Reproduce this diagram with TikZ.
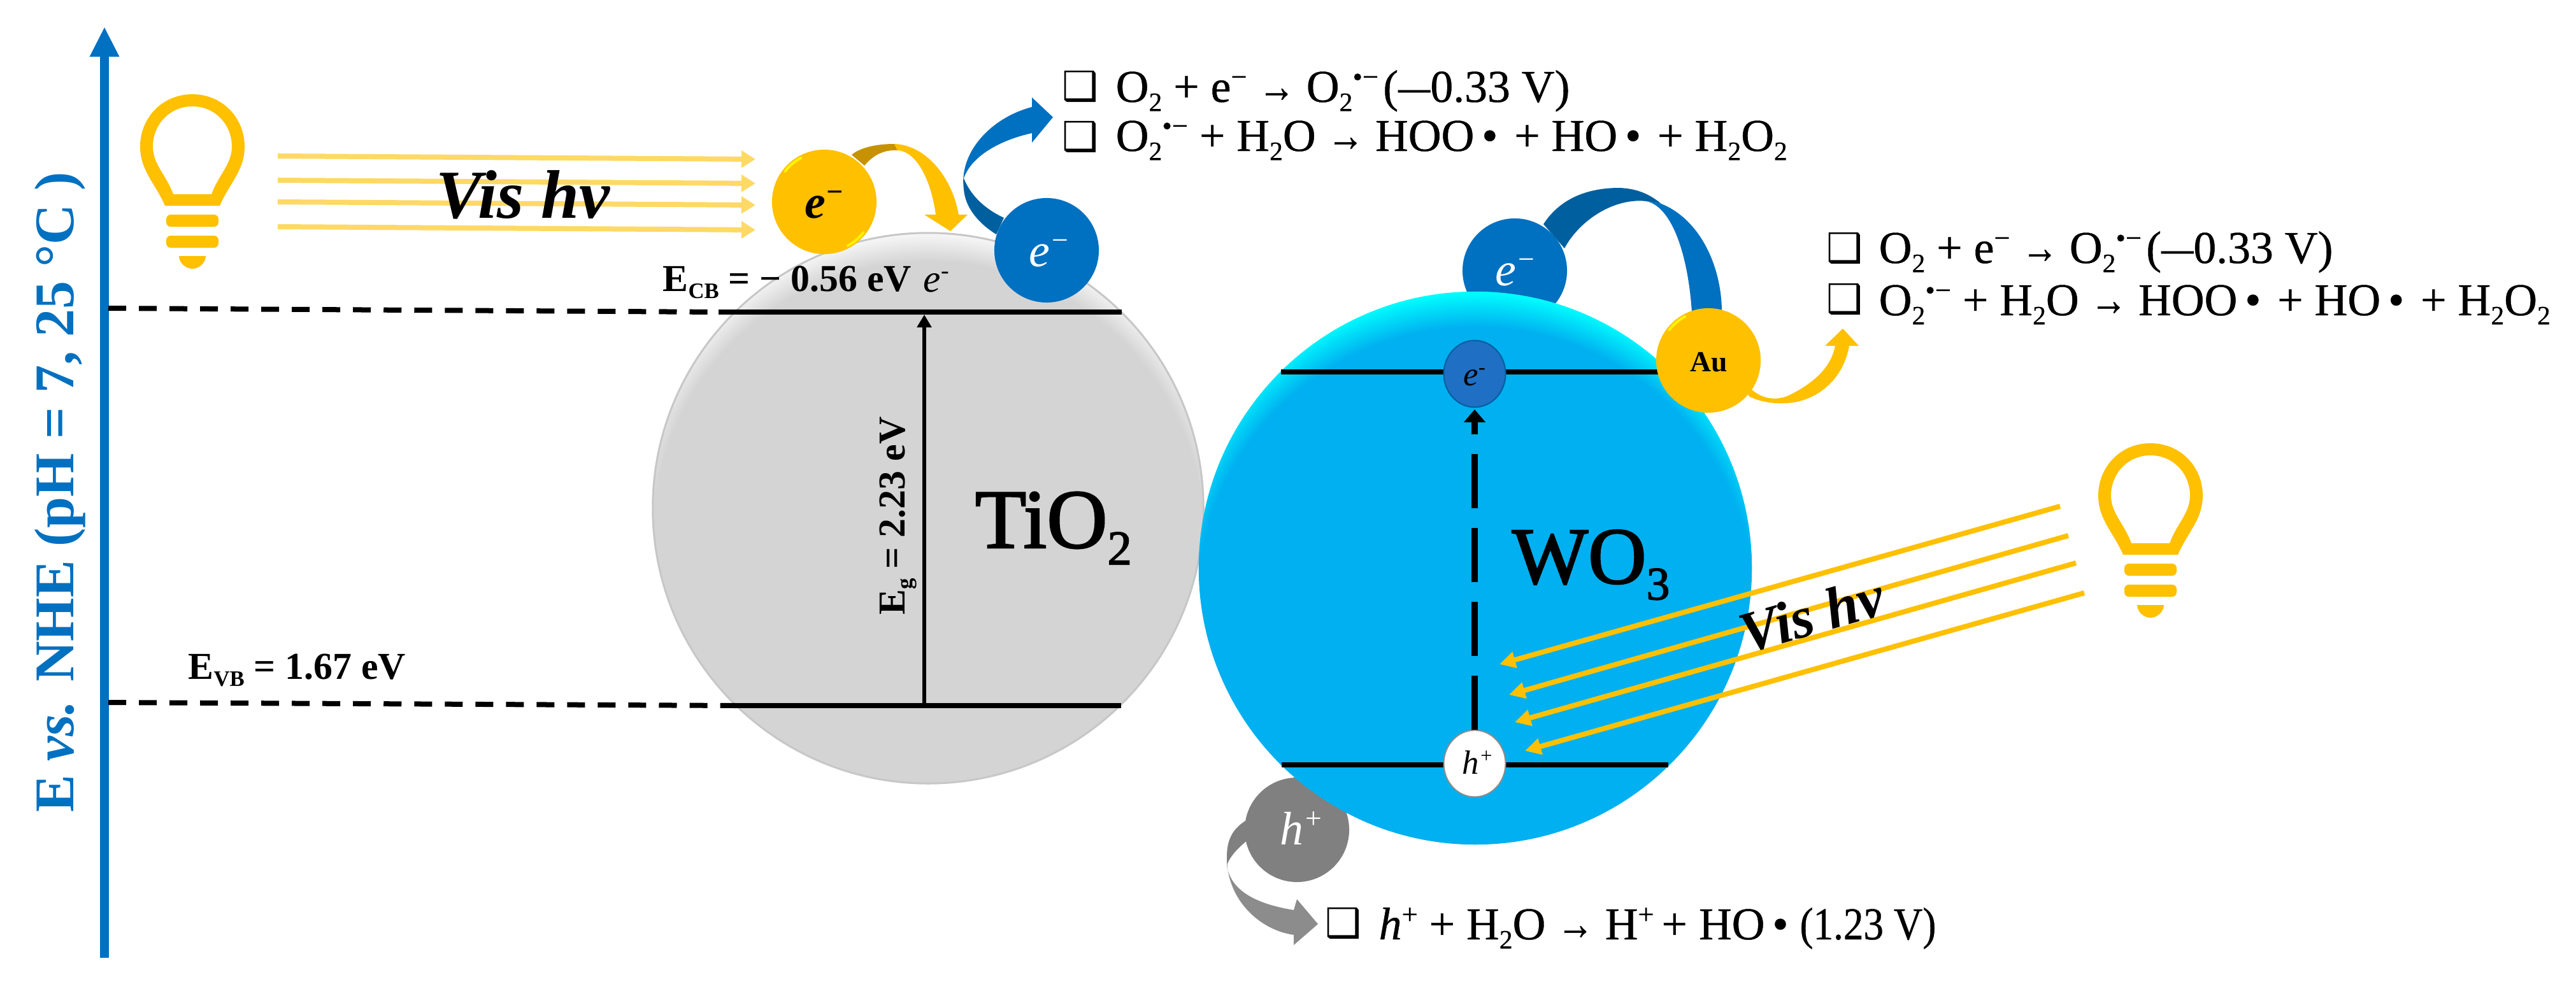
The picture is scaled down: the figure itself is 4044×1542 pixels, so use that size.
\documentclass[tikz,border=0pt]{standalone}
\usepackage{fontspec}
\usepackage{tikz}
\usetikzlibrary{arrows.meta}
\setmainfont{Liberation Serif}
\newfontfamily\dingfont{DejaVu Sans}
\newfontfamily\semifont[FakeBold=0.6]{Liberation Serif}
\newfontfamily\heavyfont[FakeBold=2]{Liberation Serif}
\definecolor{axisblue}{HTML}{0070C0}
\definecolor{deepblue}{HTML}{005F9E}
\definecolor{wothree}{HTML}{00B0F0}
\definecolor{bandblue}{HTML}{1F6FC4}
\definecolor{lampyellow}{HTML}{FFC000}
\definecolor{palelamp}{HTML}{FFD966}
\definecolor{deepyellow}{HTML}{C69200}
\pgfdeclareradialshading{tiball}{\pgfpoint{0bp}{0bp}}{color(0bp)=(black!17); color(22.5bp)=(black!17); color(24.85bp)=(black!3); color(50bp)=(black!3)}
\pgfdeclareradialshading{woball}{\pgfpoint{0bp}{0bp}}{color(0bp)=(wothree); color(21.9bp)=(wothree); color(24.7bp)=(cyan); color(50bp)=(cyan)}
\newcommand{\lowtx}[1]{\raisebox{-0.2em}{\scalebox{0.58}{#1}}}
\newcommand{\hitx}[1]{\raisebox{0.34em}{\scalebox{0.62}{#1}}}
\newcommand{\rarr}{\scalebox{0.8}[1]{→}}
\newcommand{\shortdash}{\scalebox{0.7}[1]{—}}
\newcommand{\tightv}[1]{\scalebox{0.88}[1]{#1}}
\newcommand{\dotgap}{\hspace{0.36em}}
\tikzset{lampicon/.pic = {
  \fill [lampyellow, even odd rule] (0,0) .. controls (48,0) and (82,38) .. (82,82) .. controls (82,120) and (58,140) .. (43,175) -- (-43,175) .. controls (-58,140) and (-82,120) .. (-82,82) .. controls (-82,38) and (-48,0) .. (0,0) -- cycle
    (0,19) .. controls (36,19) and (62,48) .. (62,82) .. controls (62,110) and (42,125) .. (30,157) -- (-30,157) .. controls (-42,125) and (-62,110) .. (-62,82) .. controls (-62,48) and (-36,19) .. (0,19) -- cycle;
  \fill [lampyellow, rounded corners = 0.07cm] (-41,189) rectangle (41,208);
  \fill [lampyellow, rounded corners = 0.07cm] (-41,222) rectangle (41,241);
  \fill [lampyellow] (-21,254) -- (21,254) .. controls (21,265) and (10,274) .. (0,274) .. controls (-10,274) and (-21,265) .. (-21,254) -- cycle;
}}
\begin{document}
\begin{tikzpicture}[x = 0.01cm, y = -0.01cm,
    ball/.style = {circle, inner sep = 0pt, minimum size = 1.64cm},
    yellowball/.style = {ball, fill = lampyellow},
    blueball/.style = {ball, fill = axisblue, text = white},
    greyball/.style = {ball, fill = black!50, text = white},
    level/.style = {line width = 0.08cm},
    guide/.style = {line width = 0.08cm, dash pattern = on 0.28cm off 0.2cm},
    leftray/.style = {palelamp, line width = 0.08cm, -{Triangle[length = 0.22cm, width = 0.26cm]}},
    rightray/.style = {lampyellow, line width = 0.08cm, -{Triangle[length = 0.25cm, width = 0.25cm]}},
    lab/.style = {inner sep = 0pt, anchor = base west},
    rxn/.style = {lab, font = \semifont\fontsize{20.4}{20.4}\selectfont},
    chk/.style = {inner sep = 0pt, font = \dingfont\fontsize{18}{18}\selectfont},
    bandlab/.style = {lab, font = \bfseries\fontsize{17}{17}\selectfont}]
  \useasboundingbox (0,0) rectangle (4044,1542);

  \coordinate (axisfoot) at (164,1504);
  \coordinate (axistip) at (164,42);
  \draw [axisblue, line width = 0.13cm, -{Triangle[length = 0.47cm, width = 0.43cm]}] (axisfoot) -- (axistip);
  \node [axisblue, inner sep = 0pt, anchor = base, rotate = 90, font = \bfseries\fontsize{25}{25}\selectfont] (axislabel) at (115,773) {E \textit{vs.} NHE (pH = 7, 25 °C )};

  \pic (lampa) at (302,148) {lampicon};
  \pic (lampb) at (3376,696) {lampicon};

  \fill [deepblue] (2423,352) .. controls (2450,310) and (2495,295) .. (2542,295) .. controls (2570,296) and (2590,305) .. (2608,320) -- (2585,316) .. controls (2535,310) and (2480,345) .. (2456,390) -- cycle;
  \fill [axisblue] (2585,316) .. controls (2625,325) and (2650,400) .. (2656,490) -- (2703,490) .. controls (2703,420) and (2670,345) .. (2608,320) -- cycle;
  \node [blueball] (ewo) at (2378,425){};
  \node [greyball] (hgrey) at (2036,1303){};

  \begin{scope}
    \clip (1457,798) circle [radius = 4.32cm];
    \shade [shading = tiball] (1457,843) circle [radius = 4.8cm];
  \end{scope}
  \node [circle, inner sep = 0pt, minimum size = 8.64cm, draw = black!22, line width = 0.03cm] (tio) at (1457,798){};
  \begin{scope}
    \clip (2316,892) circle [radius = 4.34cm];
    \shade [shading = woball] (2316,952) circle [radius = 5cm];
  \end{scope}
  \node [circle, inner sep = 0pt, minimum size = 8.68cm] (wo) at (2316,892){};

  \node [white, lab, font = \itshape\fontsize{21}{21}\selectfont] (ewotxt) at (2347,448) {e\hitx{−}};
  \node [white, lab, font = \itshape\fontsize{21}{21}\selectfont] (hgreytxt) at (2009,1326) {h\hitx{+}};

  \coordinate (cbstart) at (170,484);
  \coordinate (cbjoin) at (1128,490);
  \coordinate (cbend) at (1761,490);
  \coordinate (vbstart) at (170,1103);
  \coordinate (vbjoin) at (1156,1108);
  \coordinate (vbend) at (1760,1108);
  \draw [guide] (cbstart) -- (cbjoin);
  \draw [guide] (vbstart) -- (vbjoin);
  \draw [level] (cbjoin) -- (cbend);
  \draw [level] (vbjoin) -- (vbend);
  \coordinate (gapfoot) at (1451,1108);
  \coordinate (gaptop) at (1451,494);
  \draw [line width = 0.06cm, -{Triangle[length = 0.2cm, width = 0.22cm]}] (gapfoot) -- (gaptop);

  \coordinate (wocbl) at (2011,584);
  \coordinate (wocbr) at (2610,584);
  \coordinate (wovbl) at (2012,1201);
  \coordinate (wovbr) at (2619,1201);
  \draw [level] (wocbl) -- (wocbr);
  \draw [level] (wovbl) -- (wovbr);

  \node [circle, inner sep = 0pt, minimum size = 0.97cm, yscale = 1.08, fill = bandblue, draw = deepblue, line width = 0.02cm] (esmall) at (2315,587){};
  \node [lab, font = \itshape\fontsize{15}{15}\selectfont] (esmalltxt) at (2297,605) {e\hitx{-}};
  \node [circle, inner sep = 0pt, minimum size = 0.97cm, yscale = 1.08, fill = white, draw = black!45, line width = 0.02cm] (hole) at (2315,1199){};
  \node [lab, font = \itshape\fontsize{15}{15}\selectfont] (holetxt) at (2295,1215) {h\hitx{+}};
  \coordinate (holetop) at (2315,1146);
  \coordinate (etip) at (2315,643);
  \draw [line width = 0.1cm, dash pattern = on 0.85cm off 0.31cm, -{Triangle[length = 0.2cm, width = 0.33cm]}] (holetop) -- (etip);

  \fill [deepyellow] (1337,243) .. controls (1350,232) and (1375,226) .. (1404,226) -- (1409,236) .. controls (1385,235) and (1370,245) .. (1357,260) -- cycle;
  \fill [lampyellow] (1404,226) .. controls (1455,228) and (1495,280) .. (1505,337) -- (1519,337) -- (1492,363) -- (1451,337) -- (1469,337) .. controls (1462,285) and (1440,238) .. (1409,236) -- cycle;
  \fill [deepblue] (1513,280) .. controls (1525,310) and (1550,330) .. (1576,342) -- (1564,368) .. controls (1535,350) and (1515,325) .. (1513,297) -- cycle;
  \fill [axisblue] (1513,297) .. controls (1505,240) and (1555,185) .. (1620,168) -- (1620,153) -- (1653,184) -- (1620,224) -- (1620,209) .. controls (1570,220) and (1525,245) .. (1513,280) -- cycle;
  \fill [lampyellow] (2745,607) .. controls (2765,628) and (2790,630) .. (2810,620) .. controls (2850,600) and (2875,575) .. (2881,543) -- (2865,543) -- (2893,516) -- (2918,543) -- (2903,543) .. controls (2895,590) and (2860,625) .. (2815,632) .. controls (2785,636) and (2760,630) .. (2745,622) -- cycle;
  \fill [black!50] (1955,1289) .. controls (1938,1300) and (1926,1315) .. (1926,1345) -- (1926,1359) .. controls (1930,1345) and (1945,1330) .. (1960,1318) -- cycle;
  \fill [black!45] (1926,1345) .. controls (1925,1410) and (1975,1460) .. (2031,1468) -- (2031,1484) -- (2069,1451) -- (2036,1412) -- (2031,1429) .. controls (1975,1420) and (1932,1400) .. (1926,1359) -- cycle;

  \node [yellowball] (eyel) at (1294,317){};
  \node [blueball] (eblue) at (1643,393){};
  \node [yellowball] (au) at (2682,566){};
  \draw [yellow, line width = 0.04cm, line cap = round] ([shift = {(38:78)}]eyel.center) arc [start angle = -38, end angle = -62, radius = 0.78cm];
  \draw [yellow, line width = 0.04cm, line cap = round] ([shift = {(-142:78)}]eyel.center) arc [start angle = 142, end angle = 118, radius = 0.78cm];
  \draw [yellow, line width = 0.04cm, line cap = round] ([shift = {(-142:78)}]au.center) arc [start angle = 142, end angle = 118, radius = 0.78cm];

  \node [lab, font = \bfseries\itshape\fontsize{21}{21}\selectfont] (eyeltxt) at (1263,342) {e\hitx{−}};
  \node [lab, white, font = \itshape\fontsize{21}{21}\selectfont] (ebluetxt) at (1615,418) {e\hitx{−}};
  \node [lab, font = \bfseries\fontsize{13}{13}\selectfont] (autxt) at (2653,583) {Au};

  \coordinate (la1) at (436,245);
  \coordinate (lb1) at (1186,250);
  \coordinate (la2) at (436,283);
  \coordinate (lb2) at (1186,288);
  \coordinate (la3) at (436,317);
  \coordinate (lb3) at (1186,322);
  \coordinate (la4) at (436,356);
  \coordinate (lb4) at (1186,361);
  \draw [leftray] (la1) -- (lb1);
  \draw [leftray] (la2) -- (lb2);
  \draw [leftray] (la3) -- (lb3);
  \draw [leftray] (la4) -- (lb4);
  \node [lab, font = \bfseries\itshape\fontsize{30.7}{30.7}\selectfont] (vistop) at (684,342) {Vis hv};

  \coordinate (ra1) at (3234,795);
  \coordinate (rb1) at (2354,1043);
  \coordinate (ra2) at (3247,841);
  \coordinate (rb2) at (2369,1091);
  \coordinate (ra3) at (3259,884);
  \coordinate (rb3) at (2378,1134);
  \coordinate (ra4) at (3272,931);
  \coordinate (rb4) at (2394,1179);
  \draw [rightray] (ra1) -- (rb1);
  \draw [rightray] (ra2) -- (rb2);
  \draw [rightray] (ra3) -- (rb3);
  \draw [rightray] (ra4) -- (rb4);
  \node [inner sep = 0pt, rotate = 16, font = \bfseries\itshape\fontsize{26}{26}\selectfont] (visbot) at (2844,965) {Vis hv};

  \node [bandlab] (ecb) at (1040,457) {E\lowtx{CB} = − 0.56 eV};
  \node [lab, font = \itshape\fontsize{17.5}{17.5}\selectfont] (ecbe) at (1449,458) {e\hitx{-}};
  \node [bandlab] (evb) at (295,1066) {E\lowtx{VB} = 1.67 eV};
  \node [inner sep = 0pt, anchor = base, rotate = 90, font = \bfseries\fontsize{17}{17}\selectfont] (eg) at (1420,810) {E\lowtx{g} = 2.23 eV};
  \node [lab, font = \heavyfont\fontsize{37.5}{37.5}\selectfont] (tiotxt) at (1530,860) {TiO\lowtx{2}};
  \node [lab, font = \heavyfont\fontsize{36}{36}\selectfont] (wotxt) at (2373,916) {WO\lowtx{3}};

  \node [chk] (c1) at (1696,136) {❑};
  \node [rxn] (r1) at (1751,160) {O\lowtx{2} + e\hitx{−} \rarr{} O\lowtx{2}\hitx{•−}\hspace{0.1em}(\shortdash{}0.33 V)};
  \node [chk] (c2) at (1696,215) {❑};
  \node [rxn] (r2) at (1751,237) {O\lowtx{2}\hitx{•−} + H\lowtx{2}O \rarr{} HOO\,•\dotgap{}+ HO\,•\dotgap{}+ H\lowtx{2}O\lowtx{2}};
  \node [chk] (c3) at (2896,390) {❑};
  \node [rxn] (r3) at (2949,413) {O\lowtx{2} + e\hitx{−} \rarr{} O\lowtx{2}\hitx{•−}\hspace{0.1em}(\shortdash{}0.33 V)};
  \node [chk] (c4) at (2896,470) {❑};
  \node [rxn] (r4) at (2949,495) {O\lowtx{2}\hitx{•−} + H\lowtx{2}O \rarr{} HOO\,•\dotgap{}+ HO\,•\dotgap{}+ H\lowtx{2}O\lowtx{2}};
  \node [chk] (c5) at (2109,1450) {❑};
  \node [rxn] (r5) at (2164,1475) {\textit{h}\hitx{+} + H\lowtx{2}O \rarr{} H\hitx{+}\,+ HO\,• \tightv{(1.23 V)}};
\end{tikzpicture}
\end{document}
